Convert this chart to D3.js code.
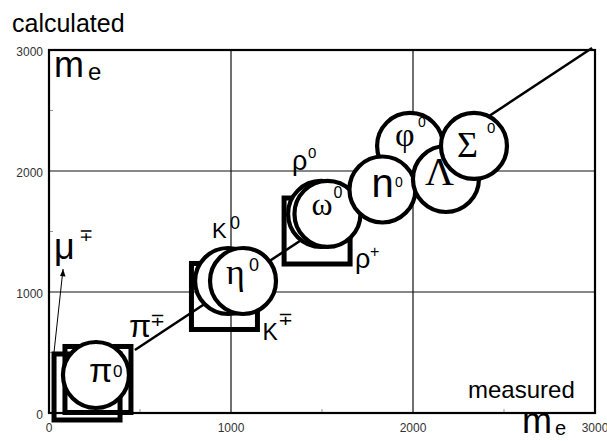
<!DOCTYPE html>
<html><head><meta charset="utf-8">
<script src="https://cdn.jsdelivr.net/npm/d3@7"></script>
<style>html,body{margin:0;padding:0;background:#fff;}svg{display:block;}</style>
</head><body>
<script>
// ---- data ----
const xTicks = [0, 1000, 2000, 3000];
const yTicks = [0, 1000, 2000, 3000];
const minorTicks = [500, 1500, 2500];
const squareNames = ["μ∓", "π∓", "K∓", "ρ+"];
const squareMeasured = [209, 269, 964, 1473];
const squareCalculated = [215, 277, 963, 1504];
const circleNames = ["π0", "K0", "η0", "ρ0", "ω0", "φ0", "n0", "Λ", "Σ0"];
const circleMeasured = [258, 984, 1066, 1495, 1530, 1984, 1832, 2181, 2335];
const circleCalculated = [314, 1091, 1091, 1645, 1645, 2207, 1847, 1934, 2207];
const lineMeasured = [472, 2984];
const lineCalculated = [521, 3017];

// ---- layout ----
const W = 607, H = 441;
const x = d3.scaleLinear().domain([0, 3000]).range([49, 595]);
const y = d3.scaleLinear().domain([0, 3000]).range([413, 50]);
const SANS = "Liberation Sans, Arial, sans-serif";
const SERIF = "Liberation Serif, Times New Roman, serif";

const svg = d3.select("body").append("svg").attr("width", W).attr("height", H);

// grid
svg.append("g").selectAll("line").data(xTicks.slice(1, -1)).join("line")
  .attr("x1", d => x(d)).attr("x2", d => x(d)).attr("y1", y(3000)).attr("y2", y(0))
  .attr("stroke", "#111").attr("stroke-width", 1.2);
svg.append("g").selectAll("line").data(yTicks.slice(1, -1)).join("line")
  .attr("y1", d => y(d)).attr("y2", d => y(d)).attr("x1", x(0)).attr("x2", x(3000))
  .attr("stroke", "#111").attr("stroke-width", 1.2);

// minor ticks
svg.append("g").selectAll("line").data(minorTicks).join("line")
  .attr("x1", d => x(d)).attr("x2", d => x(d)).attr("y1", y(0)).attr("y2", y(0) - 4)
  .attr("stroke", "#999").attr("stroke-width", 1);
svg.append("g").selectAll("line").data(minorTicks).join("line")
  .attr("y1", d => y(d)).attr("y2", d => y(d)).attr("x1", x(0)).attr("x2", x(0) + 4)
  .attr("stroke", "#999").attr("stroke-width", 1);

// frame
svg.append("rect").attr("x", x(0)).attr("y", y(3000))
  .attr("width", x(3000) - x(0)).attr("height", y(0) - y(3000))
  .attr("fill", "none").attr("stroke", "#000").attr("stroke-width", 2.2);

// tick labels
svg.append("g").selectAll("text").data(xTicks).join("text")
  .attr("x", d => x(d)).attr("y", 432).attr("text-anchor", "middle")
  .attr("font-family", SANS).attr("font-size", 12).attr("fill", "#333").text(d => d);
svg.append("g").selectAll("text").data(yTicks).join("text")
  .attr("x", 43).attr("y", d => y(d) + 6).attr("text-anchor", "end")
  .attr("font-family", SANS).attr("font-size", 12).attr("fill", "#333").text(d => d);

// diagonal line
svg.append("line")
  .attr("x1", x(lineMeasured[0])).attr("y1", y(lineCalculated[0]))
  .attr("x2", x(lineMeasured[1])).attr("y2", y(lineCalculated[1]))
  .attr("stroke", "#000").attr("stroke-width", 2.5);

// squares
const SQ = 66;
const squares = squareNames.map((n, i) => ({ n, mx: squareMeasured[i], my: squareCalculated[i] }));
svg.append("g").selectAll("rect").data(squares).join("rect")
  .attr("x", d => x(d.mx) - SQ / 2).attr("y", d => y(d.my) - SQ / 2)
  .attr("width", SQ).attr("height", SQ)
  .attr("fill", "none").attr("stroke", "#000").attr("stroke-width", 5);

// circles
const R = 33;
const circles = circleNames.map((n, i) => ({ n, mx: circleMeasured[i], my: circleCalculated[i] }));
svg.append("g").selectAll("circle").data(circles).join("circle")
  .attr("cx", d => x(d.mx)).attr("cy", d => y(d.my)).attr("r", R)
  .attr("fill", "#fff").attr("stroke", "#000").attr("stroke-width", 4.2);

// labels: parts positioned relative to marker centre (px offsets)
const labels = [
  { kind: "s", i: 0, parts: [["μ", SANS, 36, -33, -128], ["∓", SANS, 17, -8, -146]] },
  { kind: "s", i: 1, parts: [["π", SANS, 32, 31, -42.5], ["∓", SANS, 18, 52, -53]] },
  { kind: "c", i: 0, parts: [["π", SANS, 34, -7, 7], ["0", SANS, 17, 17, 2]] },
  { kind: "c", i: 1, parts: [["K", SANS, 22, -16, -43], ["0", SANS, 18, 2, -52]] },
  { kind: "c", i: 2, parts: [["η", SERIF, 36, -17, 3], ["0", SANS, 18, 6, -10]] },
  { kind: "s", i: 2, parts: [["K", SANS, 23, 38, 44], ["∓", SANS, 18, 54, 29]] },
  { kind: "c", i: 3, parts: [["ρ", SANS, 27, -29, -44], ["0", SANS, 15, -13, -56]] },
  { kind: "c", i: 4, parts: [["ω", SERIF, 32, -16, 1], ["0", SANS, 16, 6, -16]] },
  { kind: "s", i: 3, parts: [["ρ", SANS, 27, 38, 37], ["+", SANS, 16, 53, 26]] },
  { kind: "c", i: 5, parts: [["φ", SERIF, 34, -15, 0], ["0", SANS, 14, 8, -19]] },
  { kind: "c", i: 6, parts: [["n", SANS, 40, -11, 7.5], ["0", SANS, 14, 12.5, -2.5]] },
  { kind: "c", i: 7, parts: [["Λ", SERIF, 40, -21, 6]] },
  { kind: "c", i: 8, parts: [["Σ", SERIF, 36, -17, 11], ["0", SANS, 15, 13, -13]] }
];
const lg = svg.append("g");
labels.forEach(l => {
  const m = l.kind === "s" ? squares[l.i] : circles[l.i];
  const cx = x(m.mx), cy = y(m.my);
  l.parts.forEach(p => {
    lg.append("text").attr("x", cx + p[3]).attr("y", cy + p[4])
      .attr("font-family", p[1]).attr("font-size", p[2]).attr("fill", "#000").text(p[0]);
  });
});

// μ arrow
const mu = squares[0];
const ax1 = x(mu.mx) - 33, ay1 = y(mu.my) - 35, ax2 = x(mu.mx) - 24, ay2 = y(mu.my) - 118;
svg.append("line").attr("x1", ax1).attr("y1", ay1).attr("x2", ax2).attr("y2", ay2)
  .attr("stroke", "#000").attr("stroke-width", 1);
svg.append("path")
  .attr("d", `M${ax2},${ay2} l-3,7 l5.5,0.6 z`).attr("fill", "#000");

// axis titles
svg.append("text").attr("x", 12).attr("y", 32).attr("font-family", SANS).attr("font-size", 25).text("calculated");
svg.append("text").attr("x", 468).attr("y", 398).attr("font-family", SANS).attr("font-size", 24).text("measured");
svg.append("text").attr("x", 54).attr("y", 77).attr("font-family", SANS).attr("font-size", 36).text("m");
svg.append("text").attr("x", 88).attr("y", 80).attr("font-family", SANS).attr("font-size", 24).text("e");
svg.append("text").attr("x", 522).attr("y", 433).attr("font-family", SANS).attr("font-size", 36).text("m");
svg.append("text").attr("x", 555).attr("y", 435).attr("font-family", SANS).attr("font-size", 20).text("e");
</script>
</body></html>
